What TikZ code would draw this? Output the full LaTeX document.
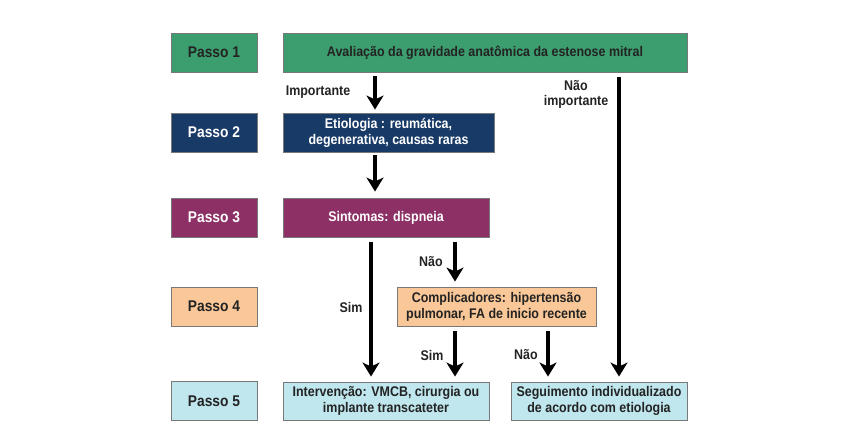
\documentclass[tikz,border=0pt]{standalone}
\usepackage{fontspec}
\setmainfont{Liberation Sans}[FakeStretch=0.89]
\usetikzlibrary{arrows.meta}
\definecolor{cgreen}{RGB}{60,158,110}
\definecolor{cnavy}{RGB}{24,58,102}
\definecolor{cpurple}{RGB}{140,48,102}
\definecolor{cpeach}{RGB}{250,200,152}
\definecolor{cblue}{RGB}{192,230,238}
\definecolor{cborder}{RGB}{120,120,120}
\definecolor{ctext}{RGB}{35,35,35}
\tikzset{
  box/.style={draw=cborder, line width=0.9pt, rectangle, inner sep=0pt, align=center,
     font=\fontsize{14}{16}\selectfont\bfseries},
  stepbox/.style={box, minimum width=86pt, minimum height=39pt, font=\fontsize{15.5}{17}\selectfont\bfseries},
  lbl/.style={font=\fontsize{14}{15.5}\selectfont\bfseries, text=ctext, align=center, inner sep=0pt},
  arr/.style={line width=3.6pt, -{Stealth[length=14pt,width=17pt,inset=4pt]}, black},
}
\begin{document}
\begin{tikzpicture}[x=1pt,y=-1pt]
\useasboundingbox (0,0) rectangle (861,447);
% step boxes
\node[stepbox, fill=cgreen, text=ctext] (p1) at (214,52.5) {Passo 1};
\node[stepbox, fill=cnavy, text=white] (p2) at (214,132.5) {Passo 2};
\node[stepbox, fill=cpurple, text=white] (p3) at (214,217.5) {Passo 3};
\node[stepbox, fill=cpeach, text=ctext] (p4) at (214,306.5) {Passo 4};
\node[stepbox, fill=cblue, text=ctext] (p5) at (214,401) {Passo 5};
% content boxes
\node[box, fill=cgreen, text=ctext, minimum width=404pt, minimum height=39pt] (a) at (485,52.5) {Avaliação da gravidade anatômica da estenose mitral};
\node[box, fill=cnavy, text=white, minimum width=211pt, minimum height=39pt] (b) at (388.5,132.5) {Etiologia : reumática,\\degenerativa, causas raras};
\node[box, fill=cpurple, text=white, minimum width=206pt, minimum height=39pt] (c) at (386,217.5) {Sintomas: dispneia};
\node[box, fill=cpeach, text=ctext, minimum width=199pt, minimum height=39pt] (d) at (496.5,306.5) {Complicadores: hipertensão\\pulmonar, FA de inicio recente};
\node[box, fill=cblue, text=ctext, minimum width=206pt, minimum height=38pt] (e) at (386,401) {Intervenção: VMCB, cirurgia ou\\implante transcateter};
\node[box, fill=cblue, text=ctext, minimum width=176pt, minimum height=38pt] (f) at (599,401) {Seguimento individualizado\\de acordo com etiologia};
% x positions
\coordinate (x1) at (375,0);
\coordinate (x2) at (371,0);
\coordinate (x3) at (455,0);
\coordinate (x4) at (548,0);
\coordinate (x5) at (619,0);
% arrows
\draw[arr, shorten <=4pt, shorten >=3pt] (a.south -| x1) -- (b.north -| x1);
\draw[arr, shorten <=3pt, shorten >=6pt] (b.south -| x1) -- (c.north -| x1);
\draw[arr, shorten <=5pt, shorten >=5pt] (c.south -| x2) -- (e.north -| x2);
\draw[arr, shorten <=5pt, shorten >=5pt] (c.south -| x3) -- (d.north -| x3);
\draw[arr, shorten <=5pt, shorten >=5pt] (d.south -| x3) -- (e.north -| x3);
\draw[arr, shorten <=5pt, shorten >=5pt] (d.south -| x4) -- (f.north -| x4);
\draw[arr, shorten <=5pt, shorten >=5pt] (a.south -| x5) -- (f.north -| x5);
% labels
\node[lbl] (l1) at (318,92) {Importante};
\node[lbl] (l2) at (576,94.5) {Não\\importante};
\node[lbl] (l3) at (431,262) {Não};
\node[lbl] (l4) at (351,307) {Sim};
\node[lbl] (l5) at (432,355) {Sim};
\node[lbl] (l6) at (526,355) {Não};
\end{tikzpicture}
\end{document}
